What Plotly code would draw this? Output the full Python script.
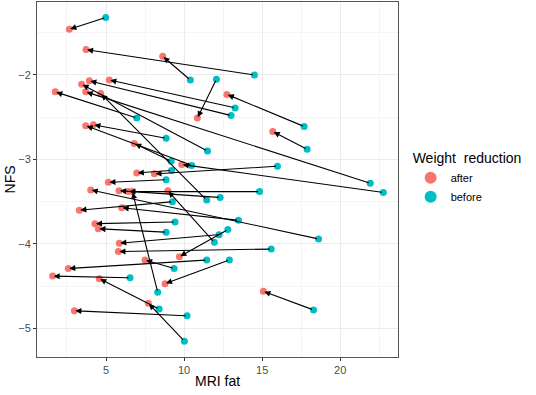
import plotly.graph_objects as go

# Paired observations: before -> after weight reduction
before_mri = [4.98, 14.5, 10.4, 12.07, 17.69, 17.88, 13.27, 13.01, 6.97, 21.92,
              22.76, 8.85, 10.49, 11.5, 11.45, 9.17, 9.2, 15.98, 8.85, 18.61,
              12.31, 14.83, 8.31, 11.94, 9.25, 13.48, 9.42, 8.85, 12.24, 15.58,
              12.8, 9.36, 11.45, 6.54, 8.40, 12.9, 10.02, 10.19, 18.29]
before_nfs = [-1.32, -2.00, -2.06, -2.05, -2.61, -2.88, -2.39, -2.48, -2.51, -3.28,
              -3.39, -2.75, -3.07, -2.90, -3.48, -3.02, -3.13, -3.08, -3.24, -3.94,
              -3.45, -3.38, -4.57, -3.98, -3.50, -3.72, -3.74, -3.86, -3.89, -4.06,
              -3.83, -4.29, -4.19, -4.40, -4.77, -4.19, -5.15, -4.85, -4.78]
after_mri = [2.65, 3.72, 8.63, 10.85, 12.74, 15.68, 5.21, 3.93, 1.75, 3.70,
             9.85, 4.19, 3.70, 3.44, 4.66, 6.81, 6.97, 8.10, 5.15, 4.02,
             5.83, 6.43, 6.69, 8.96, 3.29, 6.00, 4.29, 4.51, 5.85, 5.79,
             9.70, 7.50, 2.58, 1.58, 4.57, 8.78, 7.71, 2.97, 15.08]
after_nfs = [-1.46, -1.70, -1.78, -2.51, -2.23, -2.67, -2.06, -2.07, -2.20, -2.20,
             -3.06, -2.59, -2.60, -2.11, -2.22, -2.81, -3.16, -3.17, -3.27, -3.36,
             -3.37, -3.38, -3.38, -3.37, -3.60, -3.57, -3.76, -3.82, -3.99, -4.09,
             -4.15, -4.19, -4.29, -4.38, -4.41, -4.47, -4.70, -4.79, -4.56]

x_ticks = [5, 10, 15, 20]
y_ticks = [-5, -4, -3, -2]
x_minor = [2.5, 7.5, 12.5, 17.5, 22.5]
y_minor = [-5, -4.5, -4, -3.5, -3, -2.5, -2, -1.5]

COL_AFTER = "#F8766D"
COL_BEFORE = "#00BFC4"
FONT = "Liberation Sans, Arial, sans-serif"

fig = go.Figure()
fig.add_trace(go.Scatter(x=after_mri, y=after_nfs, mode="markers", name="after",
                         marker=dict(color=COL_AFTER, size=7, line=dict(width=0))))
fig.add_trace(go.Scatter(x=before_mri, y=before_nfs, mode="markers", name="before",
                         marker=dict(color=COL_BEFORE, size=7, line=dict(width=0))))

for bx, by, axx, ayy in zip(before_mri, before_nfs, after_mri, after_nfs):
    fig.add_annotation(x=axx, y=ayy, ax=bx, ay=by, xref="x", yref="y",
                       axref="x", ayref="y", text="", showarrow=True,
                       arrowhead=2, arrowsize=1.1, arrowwidth=1.1,
                       arrowcolor="black", standoff=1, startstandoff=0)

# axis titles
fig.add_annotation(text="MRI fat", xref="paper", yref="paper", x=0.5, y=-0.068,
                   xanchor="center", yanchor="middle", showarrow=False,
                   font=dict(size=14, color="black", family=FONT))
fig.add_annotation(text="NFS", xref="paper", yref="paper", x=-0.075, y=0.5,
                   xanchor="center", yanchor="middle", showarrow=False, textangle=-90,
                   font=dict(size=14, color="black", family=FONT))

fig.update_layout(
    width=536, height=395,
    margin=dict(l=37, r=138, t=2, b=38),
    plot_bgcolor="white", paper_bgcolor="white",
    font=dict(family=FONT, color="black"),
    legend=dict(title=dict(text="Weight\u00a0 reduction", font=dict(size=14, color="black")),
                x=1.035, y=0.597, xanchor="left", yanchor="top",
                font=dict(size=11, color="black"), itemsizing="constant",
                tracegroupgap=0, bgcolor="rgba(0,0,0,0)"),
)
fig.update_xaxes(range=[0.58, 23.7], tickvals=x_ticks, showgrid=True,
                 gridcolor="#EBEBEB", gridwidth=1.2, zeroline=False,
                 showline=True, linecolor="#555555", linewidth=1, mirror=True,
                 ticks="outside", ticklen=3, tickcolor="#333333",
                 tickfont=dict(size=11, color="#4D4D4D", family=FONT),
                 automargin=False,
                 minor=dict(tickvals=x_minor, showgrid=True, gridcolor="#F5F5F5", gridwidth=0.8, ticks=""))
fig.update_yaxes(range=[-5.337, -1.137], tickvals=y_ticks, showgrid=True,
                 gridcolor="#EBEBEB", gridwidth=1.2, zeroline=False,
                 showline=True, linecolor="#555555", linewidth=1, mirror=True,
                 ticks="outside", ticklen=3, tickcolor="#333333",
                 tickfont=dict(size=11, color="#4D4D4D", family=FONT),
                 automargin=False,
                 minor=dict(tickvals=y_minor, showgrid=True, gridcolor="#F5F5F5", gridwidth=0.8, ticks=""))

fig.write_html("out.html", config={"displayModeBar": False},
               post_script="document.body.style.margin='0px';document.body.style.padding='0px';")
